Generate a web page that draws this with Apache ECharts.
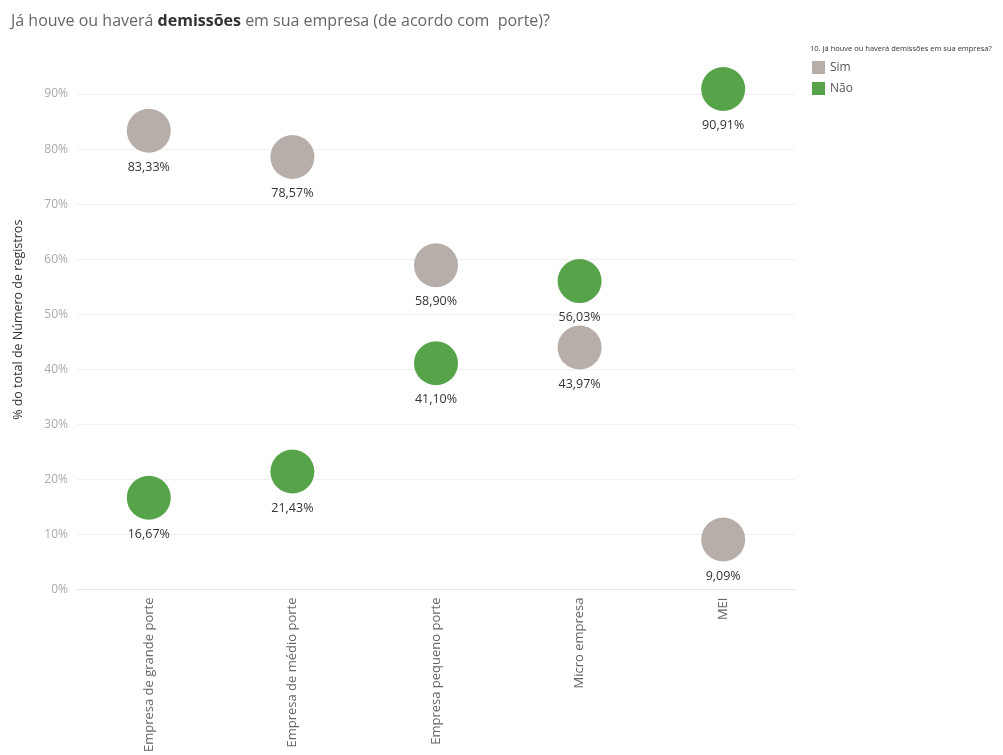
<!DOCTYPE html>
<html>
<head>
<meta charset="utf-8">
<script src="https://cdn.jsdelivr.net/npm/echarts@6/dist/echarts.min.js"></script>
<style>
	html,body{margin:0;padding:0;background:#fff;}
	#main{width:1003px;height:755px;}
</style>
</head>
<body>
<div id="main"></div>
<script>
// categorias (porte da empresa)
var categorias = ['Empresa de grande porte', 'Empresa de médio porte', 'Empresa pequeno porte', 'Micro empresa', 'MEI'];
// % do total de registros
var sim = [83.33, 78.57, 58.90, 43.97, 9.09];
var nao = [16.67, 21.43, 41.10, 56.03, 90.91];
var yTicks = [0, 10, 20, 30, 40, 50, 60, 70, 80, 90];

function fmt(v){
	return v.toFixed(2).replace('.', ',') + '%';
}

var fonte = '"Open Sans", "Noto Sans", sans-serif';

var rotulo = {
	show: true,
	position: 'bottom',
	distance: 8,
	color: '#333',
	fontSize: 12.5,
	fontFamily: fonte,
	formatter: function(p){ return fmt(p.value); }
};

// linhas de grade: a ultima (topo do eixo) fica branca
var corGrade = yTicks.map(function(){ return '#f0f0f0'; });
corGrade.push('#ffffff');

var option = {
	animation: false,
	backgroundColor: '#fff',
	title: [{
		text: 'Já houve ou haverá {b|demissões} em sua empresa (de acordo com  porte)?',
		left: 6,
		top: 8,
		textStyle: {
			fontSize: 16,
			fontWeight: 'normal',
			color: '#666',
			fontFamily: fonte,
			rich: {
				b: {fontSize: 16, fontWeight: 'bold', color: '#333', fontFamily: fonte}
			}
		}
	}, {
		text: '10. Já houve ou haverá demissões em sua empresa?',
		left: 805,
		top: 40,
		textStyle: {fontSize: 7.5, fontWeight: 'normal', color: '#333', fontFamily: fonte}
	}],
	legend: {
		orient: 'vertical',
		left: 807,
		top: 56,
		icon: 'rect',
		itemWidth: 13,
		itemHeight: 13,
		itemGap: 8,
		textStyle: {fontSize: 12, color: '#555', fontFamily: fonte},
		data: ['Sim', 'Não']
	},
	grid: {
		left: 77,
		right: 208,
		top: 50,
		bottom: 162,
		containLabel: false
	},
	xAxis: {
		type: 'category',
		data: categorias,
		axisLine: {show: true, lineStyle: {color: '#e6e6e6'}},
		axisTick: {show: false},
		splitLine: {show: false},
		axisLabel: {
			rotate: 90,
			color: '#666',
			fontSize: 13,
			fontFamily: fonte,
			margin: 8,
			interval: 0
		}
	},
	yAxis: {
		type: 'value',
		min: 0,
		max: 98,
		interval: 10,
		name: '% do total de Número de registros',
		nameLocation: 'middle',
		nameGap: 52,
		nameTextStyle: {color: '#333', fontSize: 12.5, fontFamily: fonte},
		axisLine: {show: false},
		axisTick: {show: false},
		splitLine: {lineStyle: {color: corGrade}},
		axisLabel: {
			color: '#aaa',
			fontSize: 12,
			fontFamily: fonte,
			margin: 9,
			showMaxLabel: false,
			formatter: function(v){ return yTicks.indexOf(v) >= 0 ? v + '%' : ''; }
		}
	},
	series: [{
		name: 'Sim',
		type: 'scatter',
		symbolSize: 44,
		itemStyle: {color: '#b7aeaa', opacity: 1},
		label: rotulo,
		data: sim
	}, {
		name: 'Não',
		type: 'scatter',
		symbolSize: 44,
		itemStyle: {color: '#57a34a', opacity: 1},
		label: rotulo,
		data: nao
	}]
};

var myChart = echarts.init(document.getElementById('main'));
myChart.setOption(option);
</script>
</body>
</html>
